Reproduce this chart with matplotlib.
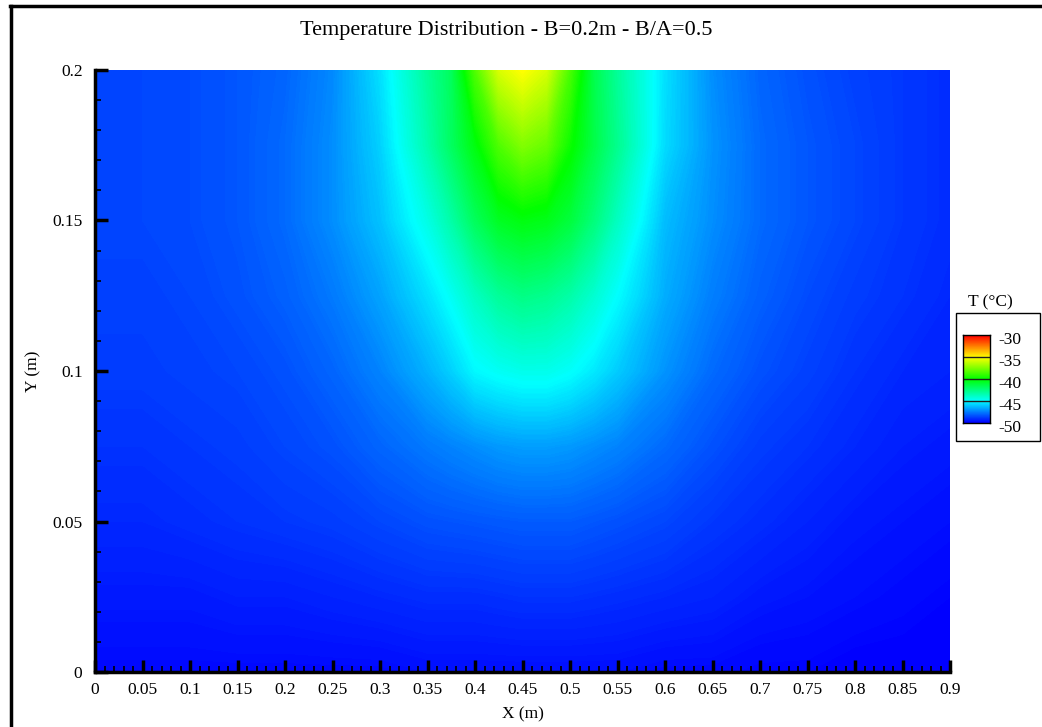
import numpy as np
import matplotlib
matplotlib.use("Agg")
import matplotlib.pyplot as plt
from matplotlib.colors import LinearSegmentedColormap
from matplotlib.ticker import MultipleLocator
from matplotlib.patches import Rectangle
from matplotlib.lines import Line2D
from matplotlib.transforms import ScaledTranslation

plt.rcParams['font.family'] = ['Liberation Serif', 'DejaVu Serif']

# sample points (m), finer around the warm spot
x_pts = [0, 0.05, 0.1, 0.15, 0.2, 0.25, 0.3, 0.35, 0.375, 0.4, 0.425, 0.45,
         0.475, 0.5, 0.525, 0.55, 0.6, 0.65, 0.7, 0.75, 0.8, 0.85, 0.9]
y_pts = [0, 0.025, 0.05, 0.075, 0.1, 0.125, 0.15, 0.175, 0.2]

# temperature (degC), one row per y value, bottom to top
t_y000 = [-49.8, -49.8, -49.8, -49.8, -49.8, -49.8, -49.8, -49.7, -49.7, -49.7, -49.7, -49.7,
          -49.7, -49.7, -49.7, -49.7, -49.8, -49.8, -49.9, -49.9, -50.0, -50.0, -50.0]
t_y025 = [-49.5, -49.5, -49.5, -49.4, -49.4, -49.3, -49.2, -49.1, -49.1, -49.1, -49.05, -49.0,
          -49.0, -49.0, -49.05, -49.1, -49.2, -49.3, -49.5, -49.6, -49.7, -49.8, -49.9]
t_y050 = [-49.2, -49.2, -49.1, -49.0, -48.9, -48.8, -48.6, -48.4, -48.35, -48.3, -48.25, -48.2,
          -48.2, -48.2, -48.3, -48.4, -48.6, -48.9, -49.1, -49.3, -49.5, -49.6, -49.7]
t_y075 = [-49.0, -49.0, -48.9, -48.8, -48.6, -48.4, -48.0, -47.6, -47.4, -47.2, -47.0, -46.9,
          -46.9, -47.0, -47.2, -47.4, -47.9, -48.4, -48.8, -49.0, -49.2, -49.4, -49.5]
t_y100 = [-48.8, -48.8, -48.7, -48.6, -48.4, -48.0, -47.4, -46.5, -45.9, -45.1, -44.8, -44.6,
          -44.6, -44.9, -45.4, -46.0, -47.1, -47.9, -48.4, -48.7, -49.0, -49.2, -49.3]
t_y125 = [-48.7, -48.7, -48.6, -48.4, -48.1, -47.6, -46.8, -45.6, -44.8, -43.8, -43.0, -42.6,
          -42.8, -43.3, -44.1, -45.0, -46.6, -47.5, -48.1, -48.5, -48.8, -49.0, -49.2]
t_y150 = [-48.6, -48.6, -48.5, -48.3, -47.9, -47.2, -46.2, -44.5, -43.3, -41.8, -40.7, -40.3,
          -40.5, -41.2, -42.4, -43.8, -46.3, -47.2, -47.9, -48.3, -48.6, -48.9, -49.1]
t_y175 = [-48.6, -48.6, -48.5, -48.3, -47.9, -47.2, -45.9, -43.4, -41.9, -40.3, -38.5, -37.5,
          -38.0, -39.8, -41.4, -42.8, -45.7, -47.1, -47.9, -48.3, -48.6, -48.9, -49.1]
t_y200 = [-48.6, -48.6, -48.5, -48.3, -48.0, -47.3, -45.6, -43.0, -41.8, -38.5, -35.8, -35.0,
          -35.8, -38.6, -41.5, -43.0, -45.6, -47.2, -48.0, -48.4, -48.7, -48.9, -49.1]

T = np.array([t_y000, t_y025, t_y050, t_y075, t_y100,
              t_y125, t_y150, t_y175, t_y200])

levels = [-50, -45, -40, -35, -30]

cmap = LinearSegmentedColormap.from_list(
    'modern', ['#0000ff', '#00ffff', '#00ff00', '#ffff00', '#ff0000'])

fig = plt.figure(figsize=(10.42, 7.27), dpi=100)
ax = fig.add_axes([95/1042, 55/727, 855/1042, 602/727])

ax.contourf(x_pts, y_pts, T, levels=np.linspace(-50, -30, 401), cmap=cmap,
            vmin=-50, vmax=-30, antialiased=False)
ax.set_xlim(0, 0.9)
ax.set_ylim(0, 0.2)

fmt = lambda v, p: ('%.2f' % v).rstrip('0').rstrip('.') if abs(v) > 1e-9 else '0'
ax.xaxis.set_major_locator(MultipleLocator(0.05))
ax.xaxis.set_minor_locator(MultipleLocator(0.01))
ax.yaxis.set_major_locator(MultipleLocator(0.05))
ax.yaxis.set_minor_locator(MultipleLocator(0.01))
ax.xaxis.set_major_formatter(fmt)
ax.yaxis.set_major_formatter(fmt)
ax.tick_params(which='major', direction='in', length=9, width=2.5,
               labelsize=12.5, pad=7, color='black')
ax.tick_params(which='minor', direction='in', length=4.5, width=1.2, color='black')
ax.tick_params(axis='y', which='both', pad=9)
ax.set_axisbelow(False)

for s in ['top', 'right']:
    ax.spines[s].set_visible(False)
for s in ['left', 'bottom']:
    ax.spines[s].set_linewidth(2.5)

ax.set_xlabel('X (m)', fontsize=12.5, labelpad=6)
ax.set_ylabel('Y (m)', fontsize=12.5, labelpad=8)
fig.text(506/1042, 1 - 31/727, 'Temperature Distribution - B=0.2m - B/A=0.5',
         ha='center', va='center', fontsize=16)

# legend box like Tecplot
fig.patches.append(Rectangle((956/1042, 1 - 441/727), 84/1042, 128/727,
                             transform=fig.transFigure, facecolor='white',
                             edgecolor='black', linewidth=1, zorder=-1))
fig.text(990/1042, 1 - 302/727, 'T (\u00b0C)', ha='center', va='center', fontsize=12.5)
cax = fig.add_axes([963/1042, 1 - 423/727, 27/1042, 88/727])
cax.set_zorder(2)
grad = np.linspace(-50, -30, 200).reshape(-1, 1)
cax.imshow(grad, origin='lower', cmap=cmap, vmin=-50, vmax=-30, aspect='auto',
           extent=[0, 1, -50, -30])
for lv in levels[1:-1]:
    cax.axhline(lv, color='#202020', lw=1)
cax.set_xticks([])
cax.set_yticks(levels)
cax.yaxis.tick_right()
cax.set_yticklabels([str(v) for v in levels])
cax.tick_params(axis='y', length=0, labelsize=12.5, pad=6)
shift = ScaledTranslation(0, -3/100, fig.dpi_scale_trans)
for lab in cax.get_yticklabels():
    lab.set_transform(lab.get_transform() + shift)
for s in cax.spines.values():
    s.set_linewidth(1)

# outer frame (left and top edges visible)
fig.add_artist(Line2D([11/1042, 11/1042], [0, 1 - 6/727], color='black', lw=2.5,
                      transform=fig.transFigure))
fig.add_artist(Line2D([10/1042, 1], [1 - 6/727, 1 - 6/727], color='black', lw=2.5,
                      transform=fig.transFigure))

fig.savefig('out.png', dpi=100)
